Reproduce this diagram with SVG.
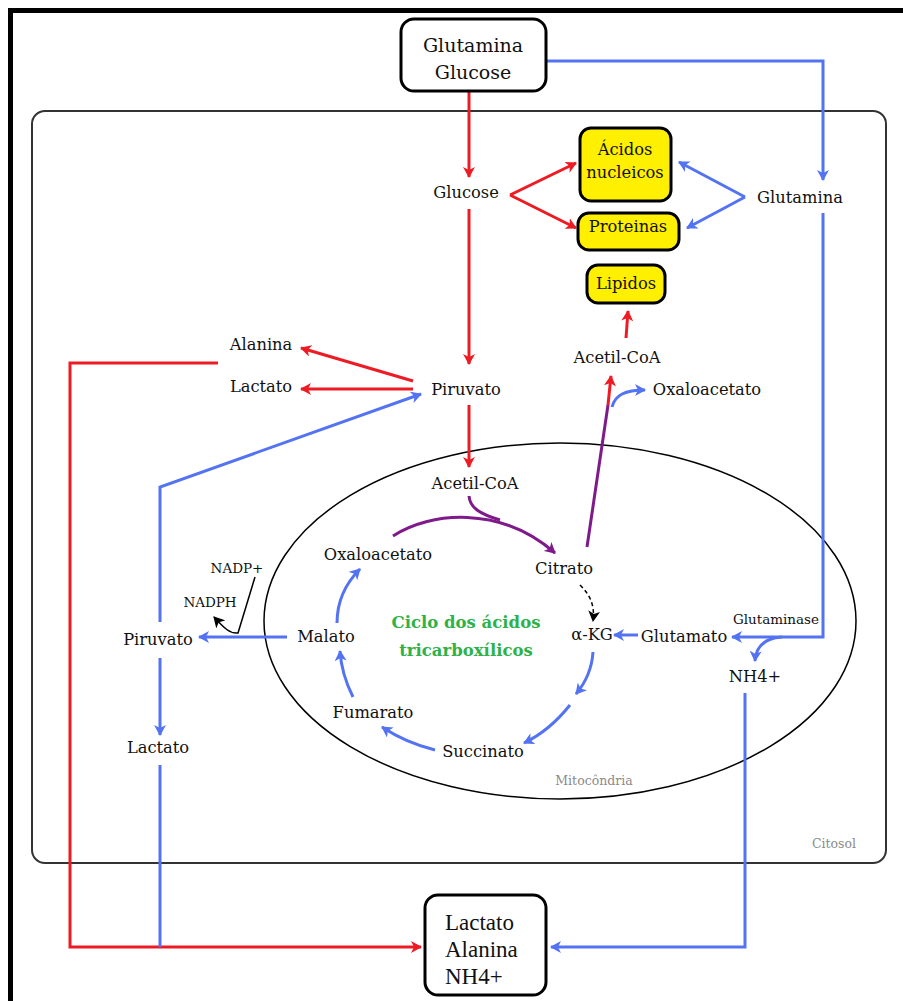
<svg xmlns="http://www.w3.org/2000/svg" width="903" height="1001" viewBox="0 0 903 1001">
<style>
text{font-family:"DejaVu Serif","Liberation Serif",serif;font-size:16.3px;fill:#111;text-anchor:middle}
.big{font-family:"DejaVu Serif","Liberation Serif",serif;font-size:19px}
.times{font-family:"Liberation Serif","Times New Roman",serif;font-size:23px;text-anchor:start}
.sm{font-size:13.5px}
.gray{fill:#8a8a8a;font-size:12.5px}
.green{fill:#2db24a;font-weight:bold;font-size:16.5px}
.box{fill:#fff;stroke:#000;stroke-width:3}
.ybox{fill:#ffef00;stroke:#000;stroke-width:3}
.r{fill:none;stroke:#ed1c24;stroke-width:3}
.b{fill:none;stroke:#5473f2;stroke-width:3}
.p{fill:none;stroke:#7f1a8a;stroke-width:3}
.k{fill:none;stroke:#000;stroke-width:1.5}
</style>
<defs>
<marker id="ar" markerWidth="12" markerHeight="12" refX="10" refY="6" orient="auto" markerUnits="userSpaceOnUse"><path d="M0,0 L11,6 L0,12 L3,6 z" fill="#ed1c24"/></marker>
<marker id="ab" markerWidth="12" markerHeight="12" refX="10" refY="6" orient="auto" markerUnits="userSpaceOnUse"><path d="M0,0 L11,6 L0,12 L3,6 z" fill="#5473f2"/></marker>
<marker id="ap" markerWidth="12" markerHeight="12" refX="10" refY="6" orient="auto" markerUnits="userSpaceOnUse"><path d="M0,0 L11,6 L0,12 L3,6 z" fill="#7f1a8a"/></marker>
<marker id="ak" markerWidth="12" markerHeight="12" refX="10" refY="6" orient="auto" markerUnits="userSpaceOnUse"><path d="M0,0 L11,6 L0,12 L3,6 z" fill="#000"/></marker>
</defs>
<rect width="903" height="1001" fill="#fff"/>
<path d="M10.5,1001 L10.5,10.5 L903,10.5" fill="none" stroke="#000" stroke-width="5"/>
<g id="citosol">
<rect x="32" y="111" width="854" height="752" rx="13" fill="none" stroke="#333" stroke-width="2"/>
<text x="834" y="848" class="gray">Citosol</text>
</g>
<g id="mitocondria">
<ellipse cx="560" cy="621" rx="296" ry="178" fill="none" stroke="#000" stroke-width="1.5"/>
<text x="594" y="785" class="gray">Mitocôndria</text>
</g>
<g id="connectors">
<path class="r" d="M469,92 L469,177" marker-end="url(#ar)"/>
<path class="r" d="M469,209 L469,364" marker-end="url(#ar)"/>
<path class="r" d="M469,405 L469,467" marker-end="url(#ar)"/>
<path class="r" d="M413,381 L301,348" marker-end="url(#ar)"/>
<path class="r" d="M413,389 L301,389" marker-end="url(#ar)"/>
<path class="r" d="M510,195 L576,163" marker-end="url(#ar)"/>
<path class="r" d="M510,195 L576,228" marker-end="url(#ar)"/>
<path class="r" d="M626,338 L628,311" marker-end="url(#ar)"/>
<path class="r" d="M608,405 L611,376" marker-end="url(#ar)"/>
<path class="r" d="M218,363 L70,363 L70,947 L421,947" marker-end="url(#ar)"/>
<path class="b" d="M547,61 L823,61 L823,180" marker-end="url(#ab)"/>
<path class="b" d="M745,197 L679,162" marker-end="url(#ab)"/>
<path class="b" d="M745,197 L687,228" marker-end="url(#ab)"/>
<path class="b" d="M823,213 L823,637 L732,637" marker-end="url(#ab)"/>
<path class="b" d="M782,637 C766,638 756,645 755,661" marker-end="url(#ab)"/>
<path class="b" d="M745,693 L745,947 L551,947" marker-end="url(#ab)"/>
<path class="b" d="M160,765 L160,947"/>
<path class="b" d="M160,622 L160,487 L421,394" marker-end="url(#ab)"/>
<path class="b" d="M160,658 L160,735" marker-end="url(#ab)"/>
<path class="b" d="M287,637 L199,637" marker-end="url(#ab)"/>
<path class="b" d="M638,635 L614,635" marker-end="url(#ab)"/>
<path class="b" d="M612,407 C615,395 625,390 645,390" marker-end="url(#ab)"/>
<path class="b" d="M593,652 C592,668 586,682 576,694" marker-end="url(#ab)"/>
<path class="b" d="M570,705 C558,720 545,733 524,743" marker-end="url(#ab)"/>
<path class="b" d="M435,750 C415,745 397,737 382,727" marker-end="url(#ab)"/>
<path class="b" d="M353,697 C346,683 341,667 340,651" marker-end="url(#ab)"/>
<path class="b" d="M337,623 C337,603 345,584 360,569" marker-end="url(#ab)"/>
<path class="p" d="M393,536 C430,512 500,505 555,553" marker-end="url(#ap)"/>
<path class="p" d="M469,496 C470,508 480,514 500,520"/>
<path class="p" d="M587,547 L608,405"/>
<path class="k" d="M580,585 C590,595 595,605 593,621" stroke-width="2.5" stroke-dasharray="4,3" marker-end="url(#ak)"/>
<path class="k" d="M255,577 L238,633 C230,634 224,628 214,617" marker-end="url(#ak)"/>
</g>
<g id="n-top">
<rect class="box" x="401" y="19" width="145" height="72" rx="13"/>
<text x="473" y="52" class="big">Glutamina</text>
<text x="473" y="79" class="big">Glucose</text>
</g>
<g id="n-bottom">
<rect class="box" x="425" y="895" width="121" height="100" rx="13"/>
<text x="445" y="930" class="times">Lactato</text>
<text x="445" y="957" class="times">Alanina</text>
<text x="445" y="984" class="times">NH4+</text>
</g>
<g id="n-acidos"><rect class="ybox" x="580" y="128" width="91" height="73" rx="11"/><text x="625" y="155">Ácidos</text><text x="625" y="178">nucleicos</text></g>
<g id="n-proteinas"><rect class="ybox" x="578" y="213" width="101" height="37" rx="11"/><text x="628" y="232">Proteinas</text></g>
<g id="n-lipidos"><rect class="ybox" x="587" y="265" width="78" height="38" rx="11"/><text x="626" y="289">Lipidos</text></g>
<g id="n-glucose"><text x="466" y="198">Glucose</text></g>
<g id="n-glutamina"><text x="800" y="203">Glutamina</text></g>
<g id="n-alanina"><text x="261" y="350">Alanina</text></g>
<g id="n-lactato"><text x="261" y="392">Lactato</text></g>
<g id="n-piruvato"><text x="466" y="395">Piruvato</text></g>
<g id="n-acetilcoa"><text x="475" y="489">Acetil-CoA</text></g>
<g id="n-acetilcoa2"><text x="617" y="363">Acetil-CoA</text></g>
<g id="n-oxalo2"><text x="707" y="395">Oxaloacetato</text></g>
<g id="n-oxalo"><text x="378" y="560">Oxaloacetato</text></g>
<g id="n-citrato"><text x="564" y="574">Citrato</text></g>
<g id="n-akg"><text x="592" y="640">α-KG</text></g>
<g id="n-glutamato"><text x="684" y="642">Glutamato</text></g>
<g id="n-glutaminase"><text x="776" y="624" class="sm">Glutaminase</text></g>
<g id="n-nh4"><text x="755" y="682">NH4+</text></g>
<g id="n-malato"><text x="326" y="642">Malato</text></g>
<g id="n-fumarato"><text x="373" y="718">Fumarato</text></g>
<g id="n-succinato"><text x="483" y="757">Succinato</text></g>
<g id="n-piruvato2"><text x="158" y="645">Piruvato</text></g>
<g id="n-lactato2"><text x="158" y="753">Lactato</text></g>
<g id="n-nadp"><text x="237" y="573" class="sm">NADP+</text></g>
<g id="n-nadph"><text x="210" y="607" class="sm">NADPH</text></g>
<g id="n-ciclo"><text x="466" y="628" class="green">Ciclo dos ácidos</text><text x="466" y="656" class="green">tricarboxílicos</text></g>
</svg>
